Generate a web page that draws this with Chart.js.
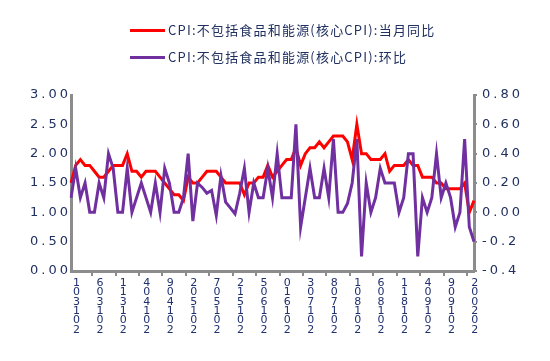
<!DOCTYPE html>
<html><head><meta charset="utf-8">
<script src="https://cdn.jsdelivr.net/npm/chart.js@4/dist/chart.umd.min.js"></script>
<style>
html,body{margin:0;padding:0;background:#fff;}
#wrap{position:relative;width:550px;height:361px;}
canvas{position:absolute;left:0;top:0;}
.lg{position:absolute;left:130px;height:20px;font:13px "Noto Sans CJK SC","DejaVu Sans",sans-serif;color:#203060;letter-spacing:1.2px;white-space:nowrap;}
.lg i{position:absolute;left:0;top:9px;width:35px;height:3px;}
.lg span{position:absolute;left:38px;top:0;line-height:20px;}
</style></head>
<body>
<div id="wrap">
<canvas id="c" width="550" height="361"></canvas>
<div class="lg" style="top:20px"><i style="background:#FF0000"></i><span id="l0"></span></div>
<div class="lg" style="top:47px"><i style="background:#7030A0"></i><span id="l1"></span></div>
</div>
<script>
const seriesNames = ['CPI:不包括食品和能源(核心CPI):当月同比', 'CPI:不包括食品和能源(核心CPI):环比'];
const months = [
'2013-01','2013-02','2013-03','2013-04','2013-05','2013-06','2013-07','2013-08','2013-09','2013-10','2013-11','2013-12',
'2014-01','2014-02','2014-03','2014-04','2014-05','2014-06','2014-07','2014-08','2014-09','2014-10','2014-11','2014-12',
'2015-01','2015-02','2015-03','2015-04','2015-05','2015-06','2015-07','2015-08','2015-09','2015-10','2015-11','2015-12',
'2016-01','2016-02','2016-03','2016-04','2016-05','2016-06','2016-07','2016-08','2016-09','2016-10','2016-11','2016-12',
'2017-01','2017-02','2017-03','2017-04','2017-05','2017-06','2017-07','2017-08','2017-09','2017-10','2017-11','2017-12',
'2018-01','2018-02','2018-03','2018-04','2018-05','2018-06','2018-07','2018-08','2018-09','2018-10','2018-11','2018-12',
'2019-01','2019-02','2019-03','2019-04','2019-05','2019-06','2019-07','2019-08','2019-09','2019-10','2019-11','2019-12',
'2020-01','2020-02','2020-03'];
const yoy = [
1.5,1.8,1.9,1.8,1.8,1.7,1.6,1.6,1.7,1.8,1.8,1.8,
2.0,1.7,1.7,1.6,1.7,1.7,1.7,1.6,1.5,1.4,1.3,1.3,
1.2,1.6,1.5,1.5,1.6,1.7,1.7,1.7,1.6,1.5,1.5,1.5,
1.5,1.3,1.5,1.5,1.6,1.6,1.8,1.6,1.7,1.8,1.9,1.9,
2.1,1.8,2.0,2.1,2.1,2.2,2.1,2.2,2.3,2.3,2.3,2.2,
1.9,2.5,2.0,2.0,1.9,1.9,1.9,2.0,1.7,1.8,1.8,1.8,
1.9,1.8,1.8,1.6,1.6,1.6,1.5,1.5,1.4,1.4,1.4,1.4,
1.5,1.0,1.2];
const mom = [
0.1,0.3,0.1,0.2,0.0,0.0,0.2,0.1,0.4,0.3,0.0,0.0,
0.3,0.0,0.1,0.2,0.1,0.0,0.2,0.0,0.3,0.2,0.0,0.0,
0.1,0.4,-0.06,0.2,0.17,0.13,0.15,-0.02,0.25,0.07,0.03,-0.01,
0.13,0.3,0.0,0.2,0.1,0.1,0.3,0.1,0.4,0.1,0.1,0.1,
0.6,-0.1,0.1,0.3,0.1,0.1,0.3,0.1,0.5,0.0,0.0,0.06,
0.2,0.5,-0.3,0.2,0.0,0.1,0.3,0.2,0.2,0.2,0.0,0.1,
0.4,0.4,-0.3,0.1,0.0,0.1,0.4,0.1,0.2,0.1,-0.1,0.0,
0.5,-0.1,-0.2];
const leftTickLabels = ['0.00','0.50','1.00','1.50','2.00','2.50','3.00'];
const rightTickLabels = ['-0.4','-0.2','0.00','0.20','0.40','0.60','0.80'];
const labelEvery = 5;

document.getElementById('l0').textContent = seriesNames[0];
document.getElementById('l1').textContent = seriesNames[1];

const TXT = '#203060';
const AX = '#8c8c8c';
const spacing = {
  id: 'spacing',
  beforeDraw(chart){ chart.ctx.letterSpacing = '3px'; }
};

new Chart(document.getElementById('c'), {
  type: 'line',
  data: {
    labels: months,
    datasets: [
      {label: seriesNames[0], data: yoy, yAxisID: 'y', borderColor: '#FF0000', borderWidth: 3, pointRadius: 0, tension: 0, order: 2},
      {label: seriesNames[1], data: mom, yAxisID: 'y1', borderColor: '#7030A0', borderWidth: 3, pointRadius: 0, tension: 0, order: 1}
    ]
  },
  options: {
    responsive: false,
    animation: false,
    devicePixelRatio: 1,
    layout: {padding: {top: 95, left: 0, right: 0, bottom: 0}},
    plugins: {legend: {display: false}, tooltip: {enabled: false}},
    scales: {
      x: {
        type: 'category',
        offset: false,
        afterFit(s){ s.height = 90; },
        border: {display: true, color: AX, width: 3},
        grid: {
          drawOnChartArea: false, drawTicks: true, tickLength: 5, offset: true,
          color: (c) => (c.index % labelEvery === 0 && c.index > 0) ? AX : 'rgba(0,0,0,0)',
          lineWidth: 2
        },
        ticks: {
          autoSkip: false, maxRotation: 0, minRotation: 0, padding: 2, labelOffset: 7,
          color: '#203070',
          font: {family: 'DejaVu Sans', size: 11, lineHeight: 0.86},
          callback: (v, i) => i % labelEvery === 0 ? months[i].replace('-', '').split('').reverse() : ''
        }
      },
      y: {
        position: 'left', min: 0, max: 3,
        afterFit(s){ s.width = 71; },
        border: {display: true, color: AX, width: 3},
        grid: {drawOnChartArea: false, drawTicks: false},
        ticks: {
          stepSize: 0.5, padding: 0, color: TXT,
          font: {family: 'DejaVu Sans', size: 13},
          callback: (v, i) => leftTickLabels[i]
        }
      },
      y1: {
        position: 'right', min: -0.4, max: 0.8,
        afterFit(s){ s.width = 76; },
        border: {display: true, color: AX, width: 3},
        grid: {drawOnChartArea: false, drawTicks: true, tickLength: 3, color: AX, lineWidth: 2},
        ticks: {
          stepSize: 0.2, padding: 5, color: TXT,
          font: {family: 'DejaVu Sans', size: 13},
          callback: (v, i) => rightTickLabels[i]
        }
      }
    }
  },
  plugins: [spacing]
});
</script>
</body></html>
